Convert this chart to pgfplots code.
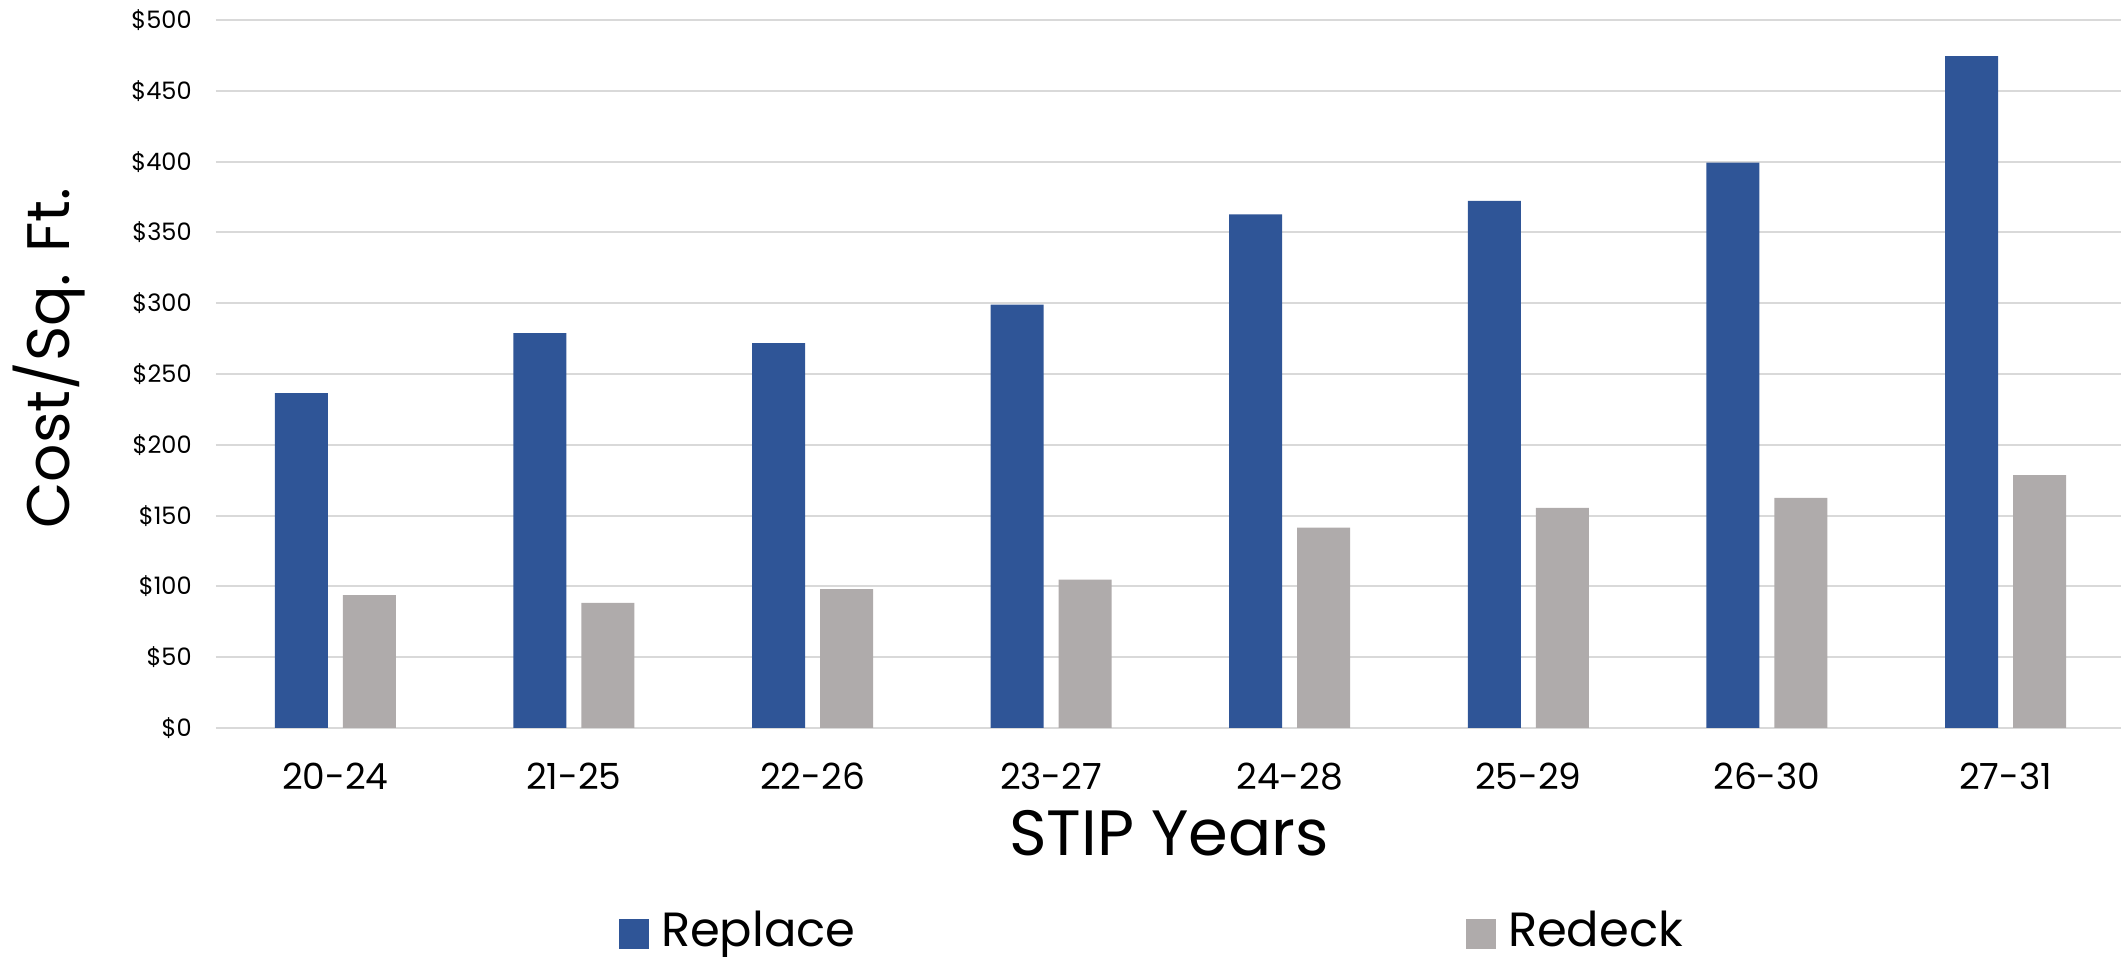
\documentclass[border=0pt]{standalone}
\usepackage{pgfplots}
\pgfplotsset{compat=1.18}
\usepackage{fontspec}
\setmainfont{Poppins}
\definecolor{repl}{HTML}{2F5597}
\definecolor{redk}{HTML}{AFABAB}
\definecolor{gridc}{HTML}{D9D9D9}
\begin{document}
\begin{tikzpicture}
\begin{axis}[
  name=ax, at={(0,0)}, anchor=south west,
  scale only axis, width=952.5pt, height=354pt,
  xmin=-0.5, xmax=7.484, ymin=0, ymax=500,
  ybar=7.5pt, bar width=26.5pt,
  xtick={0,...,7},
  xticklabels={20-24,21-25,22-26,23-27,24-28,25-29,26-30,27-31},
  ytick={0,50,...,500},
  yticklabels={\$0,\$50,\$100,\$150,\$200,\$250,\$300,\$350,\$400,\$450,\$500},
  ymajorgrids, grid style={gridc, line width=1pt},
  major tick length=0pt,
  axis x line*=bottom, axis y line*=left,
  y axis line style={draw=none},
  x axis line style={draw=gridc, line width=1pt},
  xticklabel style={font=\fontsize{18}{20}\selectfont, anchor=base, yshift=-31pt, inner sep=0pt},
  yticklabel style={font=\fontsize{12}{14}\selectfont, anchor=east, inner sep=0pt, xshift=-12pt},
  xlabel={STIP Years},
  xlabel style={font=\fontsize{32}{36}\selectfont, at={(axis description cs:0.5003,-0.1794)}, anchor=base},
  ylabel={Cost/Sq. Ft.},
  ylabel style={font=\fontsize{30}{34}\selectfont, at={(axis description cs:-0.0877,0.5226)}, anchor=center, rotate=0},
  title={(Avg. 5-Year Cost)},
  title style={font=\fontsize{20}{24}\selectfont, at={(axis description cs:0.4777,1.0282)}, anchor=base},
  legend columns=2,
  legend style={draw=none, fill=none, font=\fontsize{24}{28}\selectfont,
    at={(axis description cs:0.2082,-0.2853)}, anchor=west,
    nodes={inner sep=0pt},
    /tikz/column 1/.style={column sep=6pt},
    /tikz/column 2/.style={column sep=297.5pt},
    /tikz/column 3/.style={column sep=6pt}},
  legend image code/.code={\fill[#1] (0pt,-9.7pt) rectangle (15pt,5.3pt);},
]
\addplot[fill=repl, draw=none] coordinates {(0,236.5) (1,278.8) (2,271.8) (3,299.0) (4,362.8) (5,372.2) (6,399.3) (7,474.4)};
\addplot[fill=redk, draw=none] coordinates {(0,93.9) (1,88.4) (2,98.1) (3,104.7) (4,141.5) (5,155.4) (6,162.6) (7,178.5)};
\legend{\makebox[105pt][l]{Replace},\makebox[105pt][l]{Redeck}}
\end{axis}
\pgfresetboundingbox
\useasboundingbox (ax.south west) ++(-108pt,-114.5pt) rectangle ++(1060.5pt,478.5pt);
\end{tikzpicture}
\end{document}
